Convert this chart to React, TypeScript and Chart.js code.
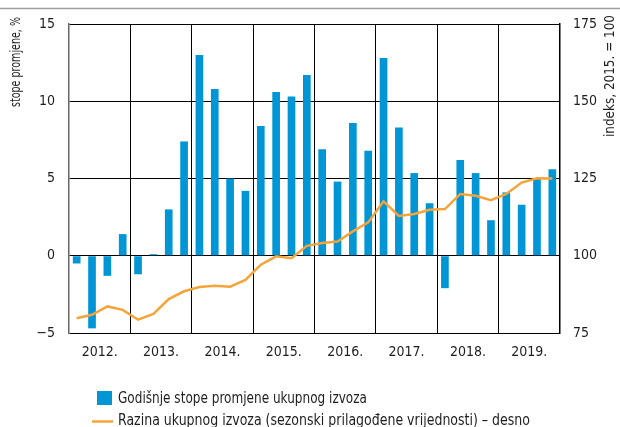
import React, { useEffect, useRef } from 'react';
import { Chart, registerables } from 'chart.js';

Chart.register(...registerables);

const FONT = "'Liberation Sans Narrow', 'DejaVu Sans Condensed', 'Roboto Condensed', 'Liberation Sans', sans-serif";

const quarters = [
  '2012 Q1', '2012 Q2', '2012 Q3', '2012 Q4',
  '2013 Q1', '2013 Q2', '2013 Q3', '2013 Q4',
  '2014 Q1', '2014 Q2', '2014 Q3', '2014 Q4',
  '2015 Q1', '2015 Q2', '2015 Q3', '2015 Q4',
  '2016 Q1', '2016 Q2', '2016 Q3', '2016 Q4',
  '2017 Q1', '2017 Q2', '2017 Q3', '2017 Q4',
  '2018 Q1', '2018 Q2', '2018 Q3', '2018 Q4',
  '2019 Q1', '2019 Q2', '2019 Q3', '2019 Q4',
];
const years = ['2012.', '2013.', '2014.', '2015.', '2016.', '2017.', '2018.', '2019.'];

const growthRates = [
  -0.5, -4.7, -1.3, 1.4,
  -1.2, 0.1, 3.0, 7.4,
  13.0, 10.8, 5.0, 4.2,
  8.4, 10.6, 10.3, 11.7,
  6.9, 4.8, 8.6, 6.8,
  12.8, 8.3, 5.35, 3.4,
  -2.1, 6.2, 5.35, 2.3,
  4.1, 3.3, 5.0, 5.6,
];
const exportLevel = [
  79.8, 80.9, 83.6, 82.5,
  79.3, 81.2, 86.0, 88.5,
  89.9, 90.3, 90.0, 92.2,
  97.1, 99.8, 99.2, 103.2,
  104.1, 104.6, 107.9, 110.8,
  117.6, 112.9, 113.5, 114.9,
  115.1, 120.0, 119.4, 118.0,
  120.0, 123.7, 125.1, 125.0,
];

const leftRange = [-5, 15];
const rightRange = [75, 175];
const leftTitle = 'stope promjene, %';
const rightTitle = 'indeks, 2015. = 100';
const barLabel = 'Godišnje stope promjene ukupnog izvoza';
const lineLabel = 'Razina ukupnog izvoza (sezonski prilagođene vrijednosti) – desno';

const BLUE = '#0096d6';
const ORANGE = '#f6a43a';
const TEXT = '#1e1e1e';

function fitText(ctx: CanvasRenderingContext2D, text: string, x: number, y: number, targetWidth: number, rotate: boolean, align: 'left' | 'center') {
  const w = ctx.measureText(text).width;
  const sx = Math.min(1, targetWidth / w);
  ctx.save();
  ctx.translate(x, y);
  if (rotate) ctx.rotate(-Math.PI / 2);
  ctx.scale(sx, 1);
  ctx.textAlign = align;
  ctx.fillText(text, 0, 0);
  ctx.restore();
}

const decorPlugin = {
  id: 'decor',
  afterDraw(chart: any) {
    const ctx = chart.ctx as CanvasRenderingContext2D;
    ctx.save();
    ctx.strokeStyle = '#a0a0a0';
    ctx.lineWidth = 1.5;
    ctx.beginPath();
    ctx.moveTo(0, 8.5);
    ctx.lineTo(620, 8.5);
    ctx.stroke();

    ctx.fillStyle = TEXT;
    ctx.font = `14px ${FONT}`;
    ctx.textBaseline = 'middle';
    fitText(ctx, leftTitle, 16, 62, 90, true, 'center');
    fitText(ctx, rightTitle, 610, 76, 122, true, 'center');

    // legend
    ctx.fillStyle = BLUE;
    ctx.fillRect(97, 391, 15, 14);
    ctx.strokeStyle = ORANGE;
    ctx.lineWidth = 2.5;
    ctx.beginPath();
    ctx.moveTo(92, 421.5);
    ctx.lineTo(113, 421.5);
    ctx.stroke();
    ctx.fillStyle = TEXT;
    ctx.font = `15px ${FONT}`;
    ctx.textBaseline = 'alphabetic';
    fitText(ctx, barLabel, 118, 403, 249, false, 'left');
    fitText(ctx, lineLabel, 118, 425, 412, false, 'left');
    ctx.restore();
  },
};

export default function App() {
  const ref = useRef<HTMLCanvasElement | null>(null);
  useEffect(() => {
    if (!ref.current) return;
    const chart = new Chart(ref.current, {
      type: 'bar',
      data: {
        labels: quarters,
        datasets: [
          {
            type: 'line',
            label: lineLabel,
            data: exportLevel,
            yAxisID: 'y1',
            xAxisID: 'x',
            borderColor: ORANGE,
            backgroundColor: ORANGE,
            borderWidth: 2.5,
            pointRadius: 0,
            tension: 0,
            order: 0,
          } as any,
          {
            type: 'bar',
            label: barLabel,
            data: growthRates,
            yAxisID: 'y',
            xAxisID: 'x',
            backgroundColor: BLUE,
            borderWidth: 0,
            barPercentage: 0.5,
            categoryPercentage: 1,
            order: 1,
          },
        ],
      },
      plugins: [decorPlugin],
      options: {
        animation: false,
        responsive: false,
        maintainAspectRatio: false,
        layout: { padding: { top: 24, left: 0, right: 0, bottom: 0 } },
        plugins: { legend: { display: false }, tooltip: { enabled: false } },
        font: { family: FONT },
        scales: {
          x: {
            type: 'category',
            position: 'bottom',
            offset: true,
            weight: 0,
            grid: {
              offset: true,
              drawTicks: false,
              color: (c: any) => (c.index !== undefined && c.index > 0 && c.index % 4 === 0 ? '#000' : 'rgba(0,0,0,0)'),
              lineWidth: 1,
            },
            border: { display: false },
            ticks: { display: false },
            afterFit: (s: any) => { s.height = 0; },
          },
          x2: {
            type: 'category',
            labels: years,
            position: 'bottom',
            offset: true,
            weight: 1,
            grid: { display: false, drawTicks: false },
            border: { display: false },
            ticks: { color: TEXT, font: { family: FONT, size: 14 }, padding: 11, maxRotation: 0 },
            afterFit: (s: any) => { s.height = 94; },
          },
          y: {
            type: 'linear',
            position: 'left',
            min: leftRange[0],
            max: leftRange[1],
            ticks: {
              stepSize: 5,
              color: TEXT,
              font: { family: FONT, size: 14 },
              padding: 14,
              callback: (v: any) => (Number(v) < 0 ? '\u2212' + Math.abs(Number(v)) : String(v)),
            },
            grid: { color: '#000', lineWidth: 1, drawTicks: false },
            border: { display: true, color: '#666', width: 1.5 },
            afterFit: (s: any) => { s.width = 69; },
          },
          y1: {
            type: 'linear',
            position: 'right',
            min: rightRange[0],
            max: rightRange[1],
            ticks: { stepSize: 25, color: TEXT, font: { family: FONT, size: 14 }, padding: 13 },
            grid: { drawOnChartArea: false, drawTicks: false },
            border: { display: true, color: '#000', width: 1.5 },
            afterFit: (s: any) => { s.width = 60; },
          },
        },
      } as any,
    });
    return () => chart.destroy();
  }, []);
  return (
    <div style={{ position: 'fixed', left: 0, top: 0, width: 620, height: 427, background: '#fff' }}>
      <canvas ref={ref} width={620} height={427} style={{ width: 620, height: 427, display: 'block' }} />
    </div>
  );
}
